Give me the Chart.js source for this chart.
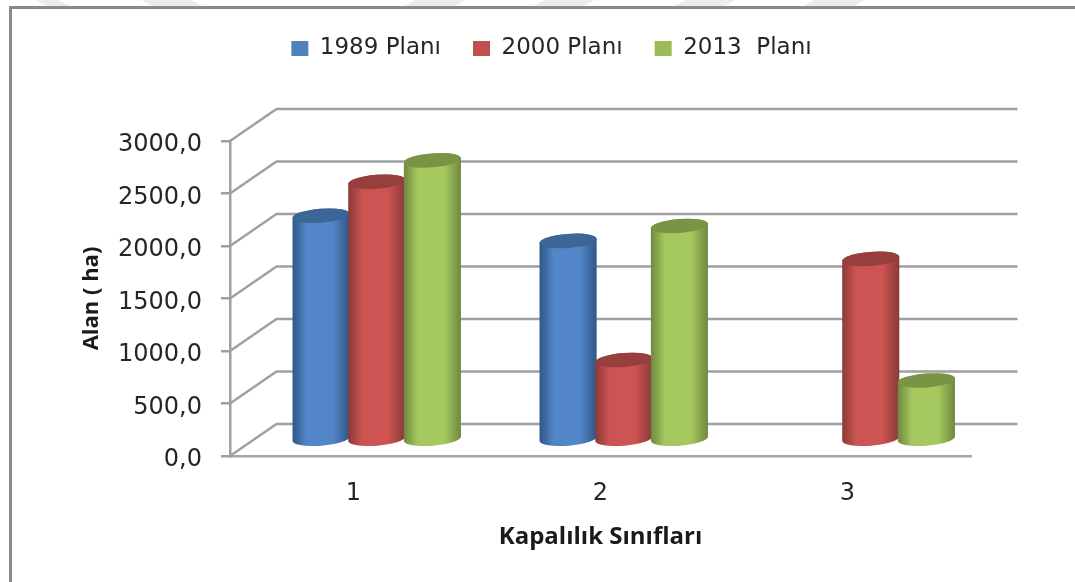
<!DOCTYPE html>
<html>
<head>
<meta charset="utf-8">
<style>
    html, body { margin: 0; padding: 0; background: #fff; overflow: hidden; }
    #frame { position: absolute; left: 9px; top: 6px; width: 1075px; height: 600px; border-left: 3px solid #8a8a8a; border-top: 3px solid #8a8a8a; }
    .wm { position: absolute; top: 0; height: 6px; background: #ececec; }
    .back { transform: skewX(60deg); }
    .fwd { transform: skewX(-60deg); }
    canvas { position: absolute; left: 0; top: 0; }
</style>
</head>
<body>
<div class="wm back" style="left:41px;width:23px"></div>
<div class="wm back" style="left:147px;width:50px"></div>
<div class="wm fwd" style="left:410px;width:50px"></div>
<div class="wm fwd" style="left:539px;width:50px"></div>
<div class="wm fwd" style="left:680px;width:50px"></div>
<div class="wm fwd" style="left:809px;width:50px"></div>
<div id="frame"></div>
<canvas id="chart" width="1075" height="582"></canvas>
<script src="https://cdn.jsdelivr.net/npm/chart.js@4"></script>
<script>
const categories = ['1', '2', '3'];
const seriesNames = ['1989 Planı', '2000 Planı', '2013  Planı'];
const plan1989 = [2136, 1896, 0];
const plan2000 = [2459, 762, 1725];
const plan2013 = [2663, 2038, 567];
const yTickLabels = ['0,0', '500,0', '1000,0', '1500,0', '2000,0', '2500,0', '3000,0'];

const seriesColors = ['#4f81bd', '#c0504d', '#9bbb59'];
const bodyDark = ['#2f5687', '#8a3a38', '#6f8840'];
const bodyLight = ['#5386c8', '#cc5452', '#a5c95f'];
const capColors = ['#3d6696', '#973f3d', '#7a9446'];

// 3D look: offset from front axes to the back wall, bars sit half way
const DEPTH_X = 46.5;
const DEPTH_Y = -32;
const TILT = -4.5 * Math.PI / 180;
const CAP_RY = 7;
const WALL_COLOR = '#a0a0a0';
const FONT = '"DejaVu Sans"';
const BOLD_FONT = '"Open Sans"';

function drawCylinder(ctx, bar, i) {
    const cx = bar.x + DEPTH_X / 2;
    const top = bar.y + DEPTH_Y / 2;
    const bottom = bar.base + DEPTH_Y / 2;
    const rx = bar.width / 2 + 0.8;

    const grad = ctx.createLinearGradient(cx - rx, 0, cx + rx, 0);
    grad.addColorStop(0, bodyDark[i]);
    grad.addColorStop(0.25, bodyLight[i]);
    grad.addColorStop(0.7, bodyLight[i]);
    grad.addColorStop(1, bodyDark[i]);

    ctx.beginPath();
    ctx.ellipse(cx, bottom, rx, CAP_RY, TILT, 0, Math.PI);
    ctx.ellipse(cx, top, rx, CAP_RY, TILT, Math.PI, Math.PI * 2);
    ctx.closePath();
    ctx.fillStyle = grad;
    ctx.fill();

    ctx.beginPath();
    ctx.ellipse(cx, top, rx, CAP_RY, TILT, 0, Math.PI * 2);
    ctx.fillStyle = capColors[i];
    ctx.fill();
}

const threeDPlugin = {
    id: 'threeD',
    afterLayout(chart) {
        // legend sits higher and further right than the default slot
        const legend = chart.legend;
        legend.top -= 71; legend.bottom -= 71;
        legend.left += 31; legend.right += 31;
    },
    beforeDatasetsDraw(chart) {
        const { ctx, chartArea, scales } = chart;
        // back wall gridlines
        ctx.save();
        ctx.strokeStyle = WALL_COLOR;
        ctx.lineWidth = 2.5;
        scales.y.ticks.forEach(t => {
            const y = scales.y.getPixelForValue(t.value);
            ctx.beginPath();
            ctx.moveTo(chartArea.left, y);
            ctx.lineTo(chartArea.left + DEPTH_X, y + DEPTH_Y);
            ctx.lineTo(chartArea.right + DEPTH_X, y + DEPTH_Y);
            ctx.stroke();
        });
        // first series first, so later cylinders overlap earlier ones
        chart.getSortedVisibleDatasetMetas().forEach(meta => {
            meta.data.forEach((bar, n) => {
                if (meta.controller.getParsed(n).y > 0) drawCylinder(ctx, bar, meta.index);
            });
        });
        ctx.restore();
        return false;
    }
};

new Chart(document.getElementById('chart'), {
    type: 'bar',
    data: {
        labels: categories,
        datasets: [
            { label: seriesNames[0], data: plan1989, backgroundColor: seriesColors[0] },
            { label: seriesNames[1], data: plan2000, backgroundColor: seriesColors[1] },
            { label: seriesNames[2], data: plan2013, backgroundColor: seriesColors[2] }
        ]
    },
    options: {
        responsive: false,
        animation: false,
        layout: { padding: { left: 70, right: 104, top: 76, bottom: 30 } },
        datasets: { bar: { barPercentage: 1, categoryPercentage: 0.676 } },
        plugins: {
            tooltip: { enabled: false },
            legend: {
                position: 'top',
                labels: {
                    boxWidth: 17,
                    boxHeight: 15,
                    padding: 32,
                    color: '#262626',
                    font: { family: FONT, size: 23 }
                }
            }
        },
        scales: {
            x: {
                grid: { display: false },
                border: { color: '#a6a6a6', width: 2.5 },
                ticks: { color: '#262626', padding: 15, font: { family: FONT, size: 24 } },
                title: {
                    display: true,
                    text: 'Kapalılık Sınıfları',
                    color: '#1a1a1a',
                    padding: { top: 8, bottom: 0 },
                    font: { family: BOLD_FONT, size: 24, weight: 'bold' }
                },
                afterFit(scale) { scale.height = 96; }
            },
            y: {
                min: 0,
                max: 3000,
                grid: { drawOnChartArea: false, color: WALL_COLOR, lineWidth: 2.5, tickLength: 9 },
                border: { color: WALL_COLOR, width: 2.5 },
                ticks: {
                    stepSize: 500,
                    padding: 19,
                    labelOffset: 4,
                    color: '#262626',
                    font: { family: FONT, size: 24 },
                    callback: (value, index) => yTickLabels[index]
                },
                title: {
                    display: true,
                    text: 'Alan ( ha)',
                    color: '#1a1a1a',
                    padding: { top: 9, bottom: 0 },
                    font: { family: BOLD_FONT, size: 22, weight: 'bold' }
                },
                afterFit(scale) { scale.width = 160; }
            }
        }
    },
    plugins: [threeDPlugin]
});
</script>
</body>
</html>
